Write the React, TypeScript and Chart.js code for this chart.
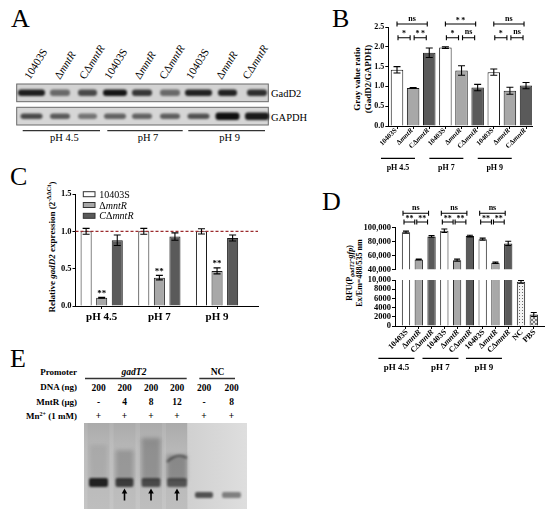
import React, { useEffect, useRef } from 'react';
import { Chart, registerables } from 'chart.js';
Chart.register(...registerables);

const SERIF = "'Liberation Serif', 'Times New Roman', serif";

// ---------------- data ----------------
const strains = ['10403S', 'ΔmntR', 'CΔmntR'];
const phLevels = ['pH 4.5', 'pH 7', 'pH 9'];
const strainColors = ['#ffffff', '#a8a8a8', '#5a5a5a'];

// A: western blot, relative band darkness (0..1)
const blotLabels = [...strains, ...strains, ...strains];
const gadD2Bands = [0.86, 0.5, 0.66, 0.9, 0.74, 0.5, 0.84, 0.84, 0.78];
const gapdhBands = [0.66, 0.58, 0.46, 0.54, 0.54, 0.56, 0.62, 0.93, 0.88];

// B: gray value ratio (GadD2/GAPDH)
const grayLabels = blotLabels;
const grayRatio = [1.42, 0.96, 1.85, 1.98, 1.4, 0.97, 1.36, 0.89, 1.02];
const grayRatioErr = [0.08, 0.01, 0.12, 0.02, 0.12, 0.08, 0.08, 0.09, 0.08];
const graySig = [
  { from: 0, to: 2, level: 1, text: 'ns' },
  { from: 0, to: 1, level: 0, text: '*' },
  { from: 1, to: 2, level: 0, text: '**' },
  { from: 3, to: 5, level: 1, text: '**' },
  { from: 3, to: 4, level: 0, text: '*' },
  { from: 4, to: 5, level: 0, text: 'ns' },
  { from: 6, to: 8, level: 1, text: 'ns' },
  { from: 6, to: 7, level: 0, text: '*' },
  { from: 7, to: 8, level: 0, text: 'ns' },
];

// C: relative gadD2 expression
const relWT = [1.0, 1.0, 1.0];
const relWTErr = [0.04, 0.04, 0.035];
const relDelta = [0.11, 0.38, 0.47];
const relDeltaErr = [0.006, 0.03, 0.04];
const relComp = [0.88, 0.93, 0.91];
const relCompErr = [0.07, 0.05, 0.04];
const relSig = ['**', '**', '**'];

// D: RFU
const rfuLabels = [...strains, ...strains, ...strains, 'NC', 'PBS'];
const rfu = [93000, 54000, 87000, 95000, 53000, 87500, 83000, 49500, 77000, 9600, 2500];
const rfuErr = [1500, 800, 1200, 2500, 1500, 1200, 1500, 1000, 3000, 300, 450];
const rfuSig = [
  { from: 0, to: 2, level: 1, text: 'ns' },
  { from: 0, to: 1, level: 0, text: '**' },
  { from: 1, to: 2, level: 0, text: '**' },
  { from: 3, to: 5, level: 1, text: 'ns' },
  { from: 3, to: 4, level: 0, text: '**' },
  { from: 4, to: 5, level: 0, text: '**' },
  { from: 6, to: 8, level: 1, text: 'ns' },
  { from: 6, to: 7, level: 0, text: '**' },
  { from: 7, to: 8, level: 0, text: '**' },
];

// E: EMSA
const dnaNg = ['200', '200', '200', '200', '200', '200'];
const mntRUg = ['-', '4', '8', '12', '-', '8'];
const mnAdded = ['+', '+', '+', '+', '+', '+'];
const shifted = [false, true, true, true, false, false];

// ---------------- layout constants ----------------
const blotLaneX = [31.5, 60, 87.5, 115, 142, 170, 198.5, 227.5, 257];
const blotLabelX = [30, 60, 85, 110, 140, 165, 191.7, 221.7, 248.3];
const gadBandW = [27, 20, 19, 24, 20, 20, 27, 19, 20];
const gapBandW = [22, 20, 19, 22, 20, 20, 22, 24, 24];
const emsaX = [98.5, 124.5, 151, 177, 204, 231.5];

// ---------------- helpers ----------------
type Seg = { t: string; i?: boolean; s?: number; dy?: number };
const fnt = (size: number, g: Seg, weight: string) =>
  `${g.i ? 'italic ' : ''}${weight} ${size * (g.s ?? 1)}px ${SERIF}`;

function richText(ctx: CanvasRenderingContext2D, segs: Seg[], size: number, x: number, y: number,
  align: 'left' | 'center' | 'right', angle = 0, baseline: CanvasTextBaseline = 'alphabetic', weight = 'bold') {
  ctx.save();
  ctx.translate(x, y);
  if (angle) ctx.rotate(angle);
  ctx.textBaseline = baseline;
  ctx.textAlign = 'left';
  ctx.fillStyle = '#000';
  let total = 0;
  for (const g of segs) { ctx.font = fnt(size, g, weight); total += ctx.measureText(g.t).width; }
  let cx = align === 'left' ? 0 : align === 'center' ? -total / 2 : -total;
  for (const g of segs) {
    ctx.font = fnt(size, g, weight);
    ctx.fillText(g.t, cx, g.dy ?? 0);
    cx += ctx.measureText(g.t).width;
  }
  ctx.restore();
}

const strainSegs = (s: string): Seg[] => {
  const k = s.indexOf('mntR');
  return k < 0 ? [{ t: s }] : [{ t: s.slice(0, k) }, { t: 'mntR', i: true }];
};

function errorBars(chart: any, ds: number, errs: number[], cap: number) {
  const { ctx } = chart;
  const y = chart.scales.y;
  const meta = chart.getDatasetMeta(ds);
  const vals = chart.data.datasets[ds].data;
  ctx.save();
  ctx.strokeStyle = '#000';
  ctx.lineWidth = 1.1;
  meta.data.forEach((el: any, i: number) => {
    const v = vals[i].y;
    if (v < y.min || v > y.max) return;
    const t = y.getPixelForValue(v + errs[i]);
    const b = y.getPixelForValue(v - errs[i]);
    ctx.beginPath();
    ctx.moveTo(el.x, t); ctx.lineTo(el.x, b);
    ctx.moveTo(el.x - cap, t); ctx.lineTo(el.x + cap, t);
    ctx.moveTo(el.x - cap, b); ctx.lineTo(el.x + cap, b);
    ctx.stroke();
  });
  ctx.restore();
}

function brackets(chart: any, sigs: any[], levels: number[], s1: number, s2: number, size: number, starGap: string) {
  const { ctx } = chart;
  const x = chart.scales.x, y = chart.scales.y;
  ctx.save();
  ctx.strokeStyle = '#000';
  ctx.lineWidth = 1.1;
  for (const s of sigs) {
    let x1 = x.getPixelForValue(s.from) + s1;
    let x2 = x.getPixelForValue(s.to) + s2;
    if (s.level === 0) { x1 += 1; x2 -= 1; }
    const yy = y.getPixelForValue(levels[s.level]);
    ctx.beginPath();
    ctx.moveTo(x1, yy); ctx.lineTo(x2, yy);
    ctx.moveTo(x1, yy - 2.5); ctx.lineTo(x1, yy + 2.5);
    ctx.moveTo(x2, yy - 2.5); ctx.lineTo(x2, yy + 2.5);
    ctx.stroke();
    const star = s.text.indexOf('*') >= 0;
    richText(ctx, [{ t: star ? s.text.split('').join(starGap) : s.text }], size, (x1 + x2) / 2, yy - (star ? 1.2 : 3.2), 'center');
  }
  ctx.restore();
}

function rotatedLabels(chart: any, labels: string[], size: number, dx: number, dy: number) {
  const { ctx, chartArea } = chart;
  const x = chart.scales.x;
  labels.forEach((l, i) =>
    richText(ctx, strainSegs(l), size, x.getPixelForValue(i) + dx, chartArea.bottom + dy, 'right', -Math.PI / 4, 'middle'));
}

function groupLines(chart: any, centers: number[], half: number, lineY: number, textY: number, size: number) {
  const { ctx } = chart;
  const x = chart.scales.x;
  ctx.save();
  ctx.strokeStyle = '#000';
  ctx.lineWidth = 1.3;
  centers.forEach((c, i) => {
    const px = x.getPixelForValue(c);
    ctx.beginPath(); ctx.moveTo(px - half, lineY); ctx.lineTo(px + half, lineY); ctx.stroke();
    richText(ctx, [{ t: phLevels[i] }], size, px, textY, 'center');
  });
  ctx.restore();
}

const xAxis = (min: number, max: number, n: number, display = true) => ({
  type: 'linear', min, max, offset: false, display,
  afterBuildTicks: (s: any) => { s.ticks = Array.from({ length: n }, (_, i) => ({ value: i })); },
  ticks: { display: false },
  grid: { display: true, drawOnChartArea: false, drawTicks: true, tickLength: 3, tickColor: '#000', color: '#000', offset: false },
  border: { display: true, color: '#000', width: 1 },
  afterFit: (s: any) => { s.height = 4; },
});

const yAxis = (min: number, max: number, step: number, size: number, width: number, fmt: (v: number) => string) => ({
  type: 'linear', min, max,
  ticks: { stepSize: step, font: { family: SERIF, size, weight: 'bold' }, color: '#000', padding: 1, callback: (v: any) => fmt(Number(v)), autoSkip: false },
  grid: { drawOnChartArea: false, drawTicks: true, tickLength: 3, tickColor: '#000', color: '#000' },
  border: { display: true, color: '#000', width: 1 },
  afterFit: (s: any) => { s.width = width; },
});

const baseOptions = (padding: any, scales: any) => ({
  animation: false,
  responsive: false,
  maintainAspectRatio: false,
  events: [],
  layout: { padding },
  plugins: { legend: { display: false }, tooltip: { enabled: false }, title: { display: false } },
  scales,
});

const pts = (arr: number[]) => arr.map((v, i) => ({ x: i, y: v }));
const rfuFmt = (v: number) => (v >= 10000 ? v.toLocaleString('en-US') : String(v));

function makePattern(kind: 'dots' | 'hatch') {
  const c = document.createElement('canvas');
  c.width = kind === 'dots' ? 3 : 4;
  c.height = c.width;
  const g = c.getContext('2d')!;
  if (kind === 'dots') {
    g.fillStyle = '#f3f3f3'; g.fillRect(0, 0, 3, 3);
    g.fillStyle = '#6e6e6e'; g.fillRect(1, 1, 1, 1);
  } else {
    g.fillStyle = '#e4e4e4'; g.fillRect(0, 0, 4, 4);
    g.fillStyle = '#7c7c7c';
    [[0, 0], [1, 1], [2, 2], [3, 3], [3, 0], [2, 1], [1, 2], [0, 3]].forEach(([a, b]) => g.fillRect(a, b, 1, 1));
  }
  return g.createPattern(c, 'repeat');
}

// ---------------- component ----------------
export default function App() {
  const bRef = useRef<HTMLCanvasElement>(null);
  const cRef = useRef<HTMLCanvasElement>(null);
  const duRef = useRef<HTMLCanvasElement>(null);
  const dlRef = useRef<HTMLCanvasElement>(null);

  useEffect(() => {
    const charts: Chart[] = [];
    const barColors9 = [...strainColors, ...strainColors, ...strainColors];

    // ---- B ----
    charts.push(new Chart(bRef.current!, {
      type: 'bar',
      data: {
        labels: grayLabels,
        datasets: [{
          data: pts(grayRatio), backgroundColor: barColors9, borderColor: '#1a1a1a', borderWidth: 1,
          barPercentage: 0.775, categoryPercentage: 1, clip: 0,
        }],
      },
      options: baseOptions({ left: 58.3, right: 18, top: 27, bottom: 50 }, {
        x: xAxis(-0.54, 8.37, 9),
        y: yAxis(0, 2.5, 0.5, 8, 30, (v) => v.toFixed(1)),
      }) as any,
      plugins: [{
        id: 'bExtras',
        afterDatasetsDraw(chart: any) {
          errorBars(chart, 0, grayRatioErr, 3.5);
          brackets(chart, graySig, [2.23, 2.575], 0, -2, 8, '\u2009');
          rotatedLabels(chart, grayLabels, 7, -1, 3.5);
          groupLines(chart, [0.06, 3.06, 6.06], 17, 158.3, 170, 8);
        },
      }],
    }));

    // ---- C ----
    const cDs = (vals: number[], i: number) => ({
      label: strains[i], data: pts(vals), backgroundColor: strainColors[i], borderColor: '#1a1a1a', borderWidth: 1,
      barPercentage: 0.71, categoryPercentage: 0.81, clip: 0,
    });
    charts.push(new Chart(cRef.current!, {
      type: 'bar',
      data: { labels: phLevels, datasets: [cDs(relWT, 0), cDs(relDelta, 1), cDs(relComp, 2)] },
      options: baseOptions({ left: 50.5, right: 22, top: 24, bottom: 25 }, {
        x: xAxis(-0.454, 2.71, 3),
        y: yAxis(0, 1.5, 0.5, 8.5, 25, (v) => v.toFixed(1)),
      }) as any,
      plugins: [{
        id: 'cExtras',
        afterDatasetsDraw(chart: any) {
          const { ctx, chartArea } = chart;
          const x = chart.scales.x, y = chart.scales.y;
          ctx.save();
          ctx.strokeStyle = '#9b2b2d';
          ctx.lineWidth = 1.3;
          ctx.setLineDash([3, 2]);
          ctx.beginPath();
          const yy = y.getPixelForValue(1);
          ctx.moveTo(chartArea.left, yy); ctx.lineTo(chartArea.right, yy);
          ctx.stroke();
          ctx.restore();
          errorBars(chart, 0, relWTErr, 3.5);
          errorBars(chart, 1, relDeltaErr, 3.5);
          errorBars(chart, 2, relCompErr, 3.5);
          const meta = chart.getDatasetMeta(1);
          meta.data.forEach((el: any, i: number) =>
            richText(ctx, [{ t: relSig[i] }], 9, el.x, y.getPixelForValue(relDelta[i] + relDeltaErr[i]) - 1.5, 'center'));
          phLevels.forEach((p, i) => richText(ctx, [{ t: p }], 11, x.getPixelForValue(i), chartArea.bottom + 13.5, 'center'));
          // legend
          const legendSegs: Seg[][] = [[{ t: strains[0] }], [{ t: 'Δ' }, { t: 'mntR', i: true }], [{ t: 'C', i: true }, { t: 'Δ' }, { t: 'mntR', i: true }]];
          strains.forEach((_, i) => {
            const bx = chartArea.left + 7.8;
            const by = chartArea.top - 2.3 + i * 10.8;
            ctx.save();
            ctx.fillStyle = strainColors[i];
            ctx.strokeStyle = '#333';
            ctx.lineWidth = 1;
            ctx.fillRect(bx, by, 11.7, 5);
            ctx.strokeRect(bx, by, 11.7, 5);
            ctx.restore();
            richText(ctx, legendSegs[i], 10, bx + 16, by + 6, 'left', 0, 'alphabetic', 'normal');
          });
        },
      }],
    }));

    // ---- D ----
    const rfuColors = [...barColors9, makePattern('dots'), makePattern('hatch')];
    const dDs = () => ({
      data: pts(rfu), backgroundColor: rfuColors, borderColor: '#1a1a1a', borderWidth: 1,
      barPercentage: 0.65, categoryPercentage: 1, clip: 0,
    });
    charts.push(new Chart(duRef.current!, {
      type: 'bar',
      data: { labels: rfuLabels, datasets: [dDs() as any] },
      options: baseOptions({ left: 65, right: 6, top: 32.3, bottom: 7.7 }, {
        x: xAxis(-0.86, 10.8, 11, false),
        y: yAxis(40000, 100000, 20000, 8.5, 40, rfuFmt),
      }) as any,
      plugins: [{
        id: 'dUpper',
        afterDatasetsDraw(chart: any) {
          errorBars(chart, 0, rfuErr, 3);
          brackets(chart, rfuSig, [107600, 120000], -3, -3, 8, '');
        },
      }],
    }));
    charts.push(new Chart(dlRef.current!, {
      type: 'bar',
      data: { labels: rfuLabels, datasets: [dDs() as any] },
      options: baseOptions({ left: 65, right: 6, top: 10, bottom: 50 }, {
        x: xAxis(-0.86, 10.8, 11),
        y: yAxis(0, 10000, 2000, 8.5, 40, rfuFmt),
      }) as any,
      plugins: [{
        id: 'dLower',
        afterDatasetsDraw(chart: any) {
          errorBars(chart, 0, rfuErr, 3);
          rotatedLabels(chart, rfuLabels, 8, 1, 5);
          groupLines(chart, [-0.75, 2.7, 6.1], 18, 88.3, 99.5, 9);
        },
      }],
    }));

    return () => charts.forEach((c) => c.destroy());
  }, []);

  const StrainText = ({ s }: { s: string }) => {
    const k = s.indexOf('mntR');
    return k < 0 ? <>{s}</> : <>{s.slice(0, k)}<tspan fontStyle="italic">mntR</tspan></>;
  };

  const canvasStyle = (l: number, t: number, w: number, h: number): React.CSSProperties =>
    ({ position: 'absolute', left: l, top: t, width: w, height: h });

  return (
    <div style={{ position: 'absolute', left: 0, top: 0, width: 550, height: 519, background: '#fff', overflow: 'hidden' }}>
      <svg width={550} height={519} style={{ position: 'absolute', left: 0, top: 0 }} fontFamily={SERIF}>
        <defs>
          <filter id="blur1" x="-50%" y="-100%" width="200%" height="300%"><feGaussianBlur stdDeviation="1.3" /></filter>
          <filter id="blur2" x="-50%" y="-50%" width="200%" height="200%"><feGaussianBlur stdDeviation="2.2" /></filter>
          <linearGradient id="gelR" x1="0" y1="0" x2="1" y2="0">
            <stop offset="0" stopColor="#d0d0d0" />
            <stop offset="1" stopColor="#dedede" />
          </linearGradient>
          <linearGradient id="gelL" x1="0" y1="0" x2="0" y2="1">
            <stop offset="0" stopColor="#b2b2b2" />
            <stop offset="0.3" stopColor="#bebebe" />
            <stop offset="1" stopColor="#c5c5c5" />
          </linearGradient>
        </defs>

        {/* panel letters */}
        <g fontSize={26}>
          <text x={11} y={27}>A</text>
          <text x={332} y={27}>B</text>
          <text x={10} y={185}>C</text>
          <text x={322} y={210}>D</text>
          <text x={10} y={367}>E</text>
        </g>

        {/* ---- A ---- */}
        {blotLabels.map((l, i) => (
          <text key={'al' + i} fontSize={11} transform={`translate(${blotLabelX[i]},80) rotate(-58)`}>
            <StrainText s={l} />
          </text>
        ))}
        <rect x={16.7} y={84} width={251.6} height={17.7} fill="#d3d3d3" stroke="#6a6a6a" strokeWidth={1} />
        <rect x={16.7} y={107.3} width={251.6} height={17.7} fill="#d6d6d6" stroke="#6a6a6a" strokeWidth={1} />
        {gadD2Bands.map((d, i) => (
          <rect key={'g' + i} x={blotLaneX[i] - gadBandW[i] / 2} y={89.5} width={gadBandW[i]} height={6.5} rx={3}
            fill={`rgba(0,0,0,${d})`} filter="url(#blur1)" />
        ))}
        {gapdhBands.map((d, i) => (
          <rect key={'p' + i} x={blotLaneX[i] - gapBandW[i] / 2} y={i > 6 ? 112.5 : 113.5} width={gapBandW[i]} height={i > 6 ? 7.5 : 5.5} rx={3}
            fill={`rgba(0,0,0,${d})`} filter="url(#blur1)" />
        ))}
        <text x={271} y={97} fontSize={10.5}>GadD2</text>
        <text x={271} y={120.5} fontSize={10.5}>GAPDH</text>
        {[[22.7, 100], [107.3, 182.7], [188.3, 265]].map(([a, b], i) => (
          <g key={'ag' + i}>
            <line x1={a} x2={b} y1={130.7} y2={130.7} stroke="#333" strokeWidth={1.3} />
            <text x={(a + b) / 2 + 3} y={141} fontSize={10.5} textAnchor="middle">{phLevels[i]}</text>
          </g>
        ))}

        {/* axis titles for B, C, D */}
        <g fontWeight="bold" fontSize={9} textAnchor="middle" dominantBaseline="central">
          <text transform="translate(356.7,79) rotate(-90)">Gray value ratio</text>
          <text transform="translate(368.3,79) rotate(-90)">(GadD2/GAPDH)</text>
          <text transform="translate(51.7,247) rotate(-90)">
            Relative <tspan fontStyle="italic">gadD2</tspan> expression (2<tspan fontSize={6.5} dy={-3.5}>-ΔΔCt</tspan><tspan dy={3.5}>)</tspan>
          </text>
        </g>
        <g fontWeight="bold" fontSize={8} textAnchor="middle" dominantBaseline="central">
          <text transform="translate(349.7,273) rotate(-90)">
            RFU(P<tspan fontSize={6} fontStyle="italic" dy={2}>gadT2</tspan><tspan fontStyle="italic" dy={-2}>-gfp</tspan>)
          </text>
          <text transform="translate(359,273) rotate(-90)">Ex/Em=488/535 nm</text>
        </g>

        {/* ---- E ---- */}
        <g fontWeight="bold" fontSize={9}>
          <text x={77} y={374.5} textAnchor="end">Promoter</text>
          <text x={77} y={390} textAnchor="end">DNA (ng)</text>
          <text x={77} y={404.5} textAnchor="end">MntR (μg)</text>
          <text x={77} y={419} textAnchor="end">Mn<tspan fontSize={6} dy={-3}>2+</tspan><tspan dy={3}> (1 mM)</tspan></text>
          <text x={134} y={374.5} textAnchor="middle" fontStyle="italic" fontSize={9.5}>gadT2</text>
          <text x={217.5} y={374.5} textAnchor="middle" fontSize={9.5}>NC</text>
          <line x1={85} x2={186.7} y1={378.5} y2={378.5} stroke="#333" strokeWidth={1.5} />
          <line x1={199.3} x2={235} y1={378.5} y2={378.5} stroke="#333" strokeWidth={1.5} />
          {emsaX.map((x, i) => (
            <g key={'e' + i} textAnchor="middle" fontSize={9.5}>
              <text x={x} y={390.5}>{dnaNg[i]}</text>
              <text x={x} y={404.5}>{mntRUg[i]}</text>
              <text x={x} y={419}>{mnAdded[i]}</text>
            </g>
          ))}
        </g>
        <rect x={84} y={423} width={163} height={86} fill="#cdcdcd" />
        <rect x={84} y={423} width={103} height={86} fill="url(#gelL)" />
        <rect x={187} y={423} width={60} height={86} fill="url(#gelR)" />
        {[0, 1, 2, 3].map((i) => (
          <rect key={'st' + i} x={emsaX[i] - 11} y={423} width={22} height={86} fill="rgba(0,0,0,0.035)" />
        ))}
        {/* smears */}
        <rect x={emsaX[0] - 9} y={445} width={18} height={34} fill="rgba(0,0,0,0.08)" filter="url(#blur2)" />
        <rect x={emsaX[1] - 9} y={450} width={18} height={30} fill="rgba(0,0,0,0.18)" filter="url(#blur2)" />
        <rect x={emsaX[2] - 9.5} y={438} width={19} height={42} fill="rgba(0,0,0,0.22)" filter="url(#blur2)" />
        <rect x={emsaX[3] - 10} y={455} width={20} height={25} fill="rgba(0,0,0,0.26)" filter="url(#blur2)" />
        <path d={`M ${emsaX[3] - 10} 462 Q ${emsaX[3]} 452 ${emsaX[3] + 10} 458`} stroke="rgba(0,0,0,0.4)" strokeWidth={2.5} fill="none" filter="url(#blur1)" />
        {/* main bands */}
        <rect x={emsaX[0] - 9.5} y={478} width={19} height={9} rx={2} fill="rgba(0,0,0,0.82)" filter="url(#blur1)" />
        <rect x={emsaX[1] - 9} y={478} width={18} height={9} rx={2} fill="rgba(0,0,0,0.68)" filter="url(#blur1)" />
        <rect x={emsaX[2] - 9.5} y={478} width={19} height={9} rx={2} fill="rgba(0,0,0,0.6)" filter="url(#blur1)" />
        <rect x={emsaX[3] - 10} y={478} width={20} height={9} rx={2} fill="rgba(0,0,0,0.55)" filter="url(#blur1)" />
        <rect x={emsaX[4] - 9} y={492} width={18} height={6} rx={2} fill="rgba(0,0,0,0.62)" filter="url(#blur1)" />
        <rect x={emsaX[5] - 9.5} y={492} width={19} height={6} rx={2} fill="rgba(0,0,0,0.42)" filter="url(#blur1)" />
        {shifted.map((s, i) => s ? (
          <g key={'ar' + i}>
            <line x1={emsaX[i]} x2={emsaX[i]} y1={500.5} y2={492} stroke="#000" strokeWidth={1.6} />
            <path d={`M ${emsaX[i] - 2.8} 493.5 L ${emsaX[i] + 2.8} 493.5 L ${emsaX[i]} 488.5 Z`} fill="#000" />
          </g>
        ) : null)}
      </svg>

      <canvas ref={bRef} width={250} height={180} style={canvasStyle(300, 0, 250, 180)} />
      <canvas ref={cRef} width={280} height={165} style={canvasStyle(0, 170, 280, 165)} />
      <canvas ref={duRef} width={260} height={86} style={canvasStyle(290, 195, 260, 86)} />
      <canvas ref={dlRef} width={260} height={110} style={canvasStyle(290, 270, 260, 110)} />
    </div>
  );
}
